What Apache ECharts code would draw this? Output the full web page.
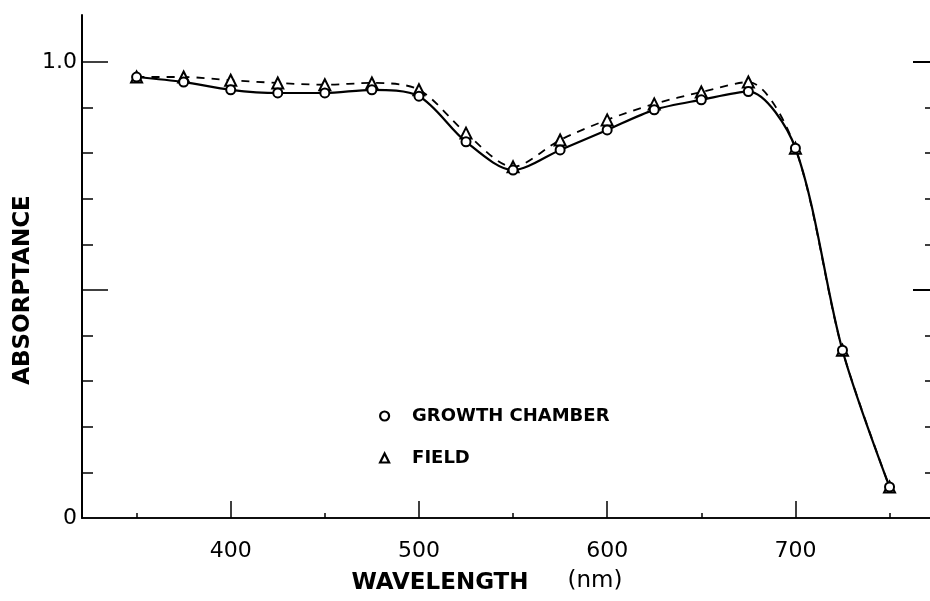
<!DOCTYPE html>
<html>
<head>
<meta charset="utf-8">
<script src="https://cdn.jsdelivr.net/npm/echarts@6/dist/echarts.min.js"></script>
<style>
html,body{margin:0;padding:0;background:#fff;}
#chart{width:930px;height:601px;}
</style>
</head>
<body>
<div id="chart"></div>
<script>
// Data
const wavelengths = [350, 375, 400, 425, 450, 475, 500, 525, 550, 575, 600, 625, 650, 675, 700, 725, 750];
const growthChamber = [0.967, 0.956, 0.939, 0.932, 0.932, 0.939, 0.925, 0.825, 0.763, 0.807, 0.851, 0.895, 0.917, 0.935, 0.811, 0.368, 0.068];
const field = [0.967, 0.967, 0.960, 0.954, 0.950, 0.954, 0.939, 0.844, 0.770, 0.829, 0.873, 0.908, 0.934, 0.956, 0.811, 0.368, 0.068];

const xMinorTicks = [350, 450, 550, 650, 750];
const xMajorTicks = [400, 500, 600, 700];
const yMinorTicks = [0.1, 0.2, 0.3, 0.4, 0.6, 0.7, 0.8, 0.9];
const yMajorTicks = [0.5, 1.0];
const yLabels = [0, 1.0];

const X_MIN = 321, X_MAX = 771.5, Y_MIN = 0, Y_MAX = 1.103;
const FONT = 'DejaVu Sans';

const gc = wavelengths.map((w, i) => [w, growthChamber[i]]);
const fd = wavelengths.map((w, i) => [w, field[i]]);

// left-side tick marks drawn as short mark lines starting on the left axis
const GRID_LEFT = 82, GRID_RIGHT = 0, CHART_W = 930;
const nmPerPx = (X_MAX - X_MIN) / (CHART_W - GRID_LEFT - GRID_RIGHT);
const tickSeg = (v, px) => [{coord: [X_MIN, v]}, {coord: [X_MIN + px * nmPerPx, v]}];
const leftTickLines = yMinorTicks.map(v => tickSeg(v, 11)).concat(yMajorTicks.map(v => tickSeg(v, 26)));

const chart = echarts.init(document.getElementById('chart'));

const baseX = {type: 'value', min: X_MIN, max: X_MAX, splitLine: {show: false}};
const baseY = {type: 'value', min: Y_MIN, max: Y_MAX, splitLine: {show: false}};

chart.setOption({
  animation: false,
  backgroundColor: '#fff',
  grid: {left: GRID_LEFT, right: GRID_RIGHT, top: 15, bottom: 83, containLabel: false},
  xAxis: [
    Object.assign({}, baseX, {
      position: 'bottom',
      axisLine: {show: true, lineStyle: {color: '#000', width: 1.5}},
      axisTick: {show: true, inside: true, length: 5, customValues: xMinorTicks, lineStyle: {color: '#000', width: 1.5}},
      axisLabel: {show: false}
    }),
    Object.assign({}, baseX, {
      position: 'bottom',
      axisLine: {show: false},
      axisTick: {show: true, inside: true, length: 17, customValues: xMajorTicks, lineStyle: {color: '#000', width: 1.5}},
      axisLabel: {show: true, customValues: xMajorTicks, margin: 22, color: '#000', fontSize: 22, fontFamily: FONT}
    }),
    Object.assign({}, baseX, {
      position: 'top',
      axisLine: {show: true, lineStyle: {color: '#000', width: 1.5}},
      axisTick: {show: false},
      axisLabel: {show: false}
    })
  ],
  yAxis: [
    Object.assign({}, baseY, {
      position: 'left',
      axisLine: {show: true, onZero: false, lineStyle: {color: '#000', width: 2}},
      axisTick: {show: false},
      axisLabel: {show: true, customValues: yLabels, margin: 5, color: '#000', fontSize: 22, fontFamily: FONT,
        formatter: v => (v === 0 ? '0' : v.toFixed(1))}
    }),
    Object.assign({}, baseY, {
      position: 'right',
      axisLine: {show: false, onZero: false},
      axisTick: {show: true, inside: true, length: 5, customValues: yMinorTicks, lineStyle: {color: '#000', width: 1.5}},
      axisLabel: {show: false}
    }),
    Object.assign({}, baseY, {
      position: 'right',
      axisLine: {show: false, onZero: false},
      axisTick: {show: true, inside: true, length: 17, customValues: yMajorTicks, lineStyle: {color: '#000', width: 2}},
      axisLabel: {show: false}
    })
  ],
  legend: {
    orient: 'vertical',
    left: 374,
    top: 402,
    itemGap: 24,
    itemWidth: 9,
    itemHeight: 9,
    data: [
      {name: 'GROWTH CHAMBER', icon: 'circle'},
      {name: 'FIELD', icon: 'triangle'}
    ],
    itemStyle: {color: '#fff', borderColor: '#000', borderWidth: 2.2},
    textStyle: {color: '#000', fontSize: 18, fontWeight: 'bold', fontFamily: FONT, padding: [0, 0, 0, 18]}
  },
  series: [
    {
      name: 'FIELD',
      type: 'line',
      xAxisIndex: 0, yAxisIndex: 0,
      data: fd,
      smooth: 0.3,
      symbol: 'emptyTriangle',
      symbolSize: 11,
      color: '#000',
      itemStyle: {color: '#000', borderColor: '#000', borderWidth: 2.2},
      lineStyle: {color: '#000', width: 1.8, type: [8, 7]},
      z: 3
    },
    {
      name: 'GROWTH CHAMBER',
      type: 'line',
      xAxisIndex: 0, yAxisIndex: 0,
      data: gc,
      smooth: 0.3,
      symbol: 'emptyCircle',
      symbolSize: 9,
      color: '#000',
      itemStyle: {color: '#000', borderColor: '#000', borderWidth: 2.5},
      lineStyle: {color: '#000', width: 2.2},
      markLine: {
        silent: true,
        symbol: ['none', 'none'],
        label: {show: false},
        lineStyle: {color: '#000', width: 1.5, type: 'solid'},
        emphasis: {disabled: true},
        data: leftTickLines
      },
      z: 4
    }
  ],
  graphic: [
    {type: 'text', x: 23, y: 290, rotation: Math.PI / 2, style: {
      text: 'ABSORPTANCE', fill: '#000', font: 'bold 23px "DejaVu Sans"', textAlign: 'center', textVerticalAlign: 'middle'}},
    {type: 'text', x: 440, y: 583, style: {
      text: 'WAVELENGTH', fill: '#000', font: 'bold 23px "DejaVu Sans"', textAlign: 'center', textVerticalAlign: 'middle'}},
    {type: 'text', x: 595, y: 581, style: {
      text: '(nm)', fill: '#000', font: '23px "DejaVu Sans"', textAlign: 'center', textVerticalAlign: 'middle'}}
  ]
});
</script>
</body>
</html>
